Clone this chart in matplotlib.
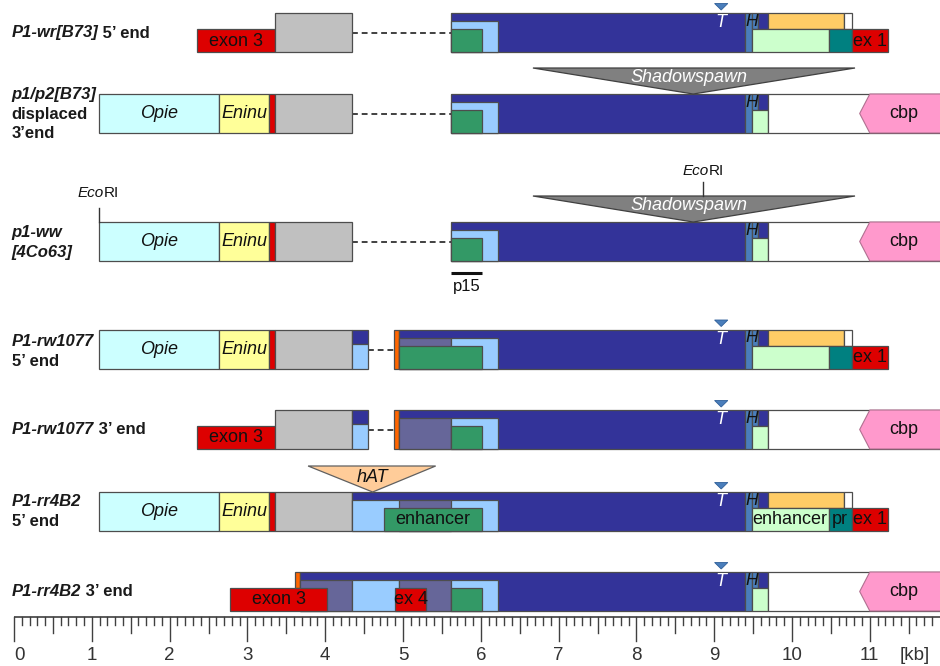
import matplotlib
matplotlib.use('Agg')
import matplotlib.pyplot as plt
from matplotlib.patches import Rectangle, Polygon

plt.rcParams['font.family'] = ['Liberation Sans', 'DejaVu Sans']

# ---------------- data (positions in kb) ----------------
colors = {
    'opie': '#CCFFFF', 'eninu': '#FFFF99', 'red': '#DD0000', 'grey': '#C0C0C0',
    'navy': '#333399', 'lblue': '#99CCFF', 'green': '#339966', 'slate': '#666699',
    'steel': '#4A7EBB', 'lgreen': '#CCFFCC', 'gold': '#FFCC66', 'white': '#FFFFFF',
    'teal': '#008080', 'orange': '#FF6600',
}

left_te = [('opie', 1.09, 2.64, 'full', 'Opie'), ('eninu', 2.64, 3.28, 'full', 'Eninu'),
           ('red', 3.28, 3.35, 'full', ''), ('grey', 3.35, 4.35, 'full', '')]
end_ex1 = [('steel', 9.40, 9.48, 'full', ''), ('steel', 9.48, 9.56, 'high', ''),
           ('navy', 9.56, 9.69, 'high', ''), ('gold', 9.69, 10.67, 'high', ''),
           ('white', 10.67, 10.77, 'high', ''), ('lgreen', 9.48, 10.47, 'low', ''),
           ('teal', 10.47, 10.77, 'low', ''), ('red', 10.77, 11.23, 'low', 'ex 1')]
end_cbp = [('steel', 9.40, 9.48, 'full', ''), ('steel', 9.48, 9.56, 'high', ''),
           ('navy', 9.56, 9.69, 'high', ''), ('lgreen', 9.48, 9.69, 'low', ''),
           ('white', 9.69, 11.95, 'full', '')]
p_core = [('navy', 5.62, 9.40, 'full', ''), ('lblue', 5.62, 6.22, 'mid', ''),
          ('green', 5.62, 6.02, 'low', '')]

row1 = [('red', 2.35, 3.35, 'low', 'exon 3'), ('grey', 3.35, 4.35, 'full', '')] + p_core + end_ex1
row2 = left_te + p_core + end_cbp
row3 = left_te + p_core + end_cbp
row4 = left_te + [('navy', 4.35, 4.55, 'cap', ''), ('lblue', 4.35, 4.55, 'base', ''),
                  ('orange', 4.89, 4.95, 'full', ''), ('navy', 4.95, 9.40, 'full', ''),
                  ('slate', 4.95, 5.62, 'mid', ''), ('lblue', 5.62, 6.22, 'mid', ''),
                  ('green', 4.95, 6.02, 'low', '')] + end_ex1
row5 = [('red', 2.35, 3.35, 'low', 'exon 3'), ('grey', 3.35, 4.35, 'full', ''),
        ('navy', 4.35, 4.55, 'cap', ''), ('lblue', 4.35, 4.55, 'base', ''),
        ('orange', 4.89, 4.95, 'full', ''), ('navy', 4.95, 9.40, 'full', ''),
        ('slate', 4.95, 5.62, 'mid', ''), ('lblue', 5.62, 6.22, 'mid', ''),
        ('green', 5.62, 6.02, 'low', '')] + end_cbp
row6 = left_te + [('navy', 4.35, 9.40, 'full', ''), ('lblue', 4.35, 6.22, 'mid', ''),
                  ('slate', 4.95, 5.62, 'mid', ''), ('green', 4.75, 6.02, 'low', 'enhancer')] + \
       [('steel', 9.40, 9.48, 'full', ''), ('steel', 9.48, 9.56, 'high', ''),
        ('navy', 9.56, 9.69, 'high', ''), ('gold', 9.69, 10.67, 'high', ''),
        ('white', 10.67, 10.77, 'high', ''), ('lgreen', 9.48, 10.47, 'low', 'enhancer'),
        ('teal', 10.47, 10.77, 'low', 'pr'), ('red', 10.77, 11.23, 'low', 'ex 1')]
row7 = [('orange', 3.61, 3.68, 'high', ''), ('navy', 3.68, 9.40, 'full', ''),
        ('slate', 3.68, 4.35, 'mid', ''), ('lblue', 4.35, 4.95, 'mid', ''),
        ('slate', 4.95, 5.62, 'mid', ''), ('lblue', 5.62, 6.22, 'mid', ''),
        ('green', 5.62, 6.02, 'low', ''), ('red', 2.78, 4.02, 'low', 'exon 3'),
        ('red', 4.90, 5.30, 'low', 'ex 4')] + end_cbp
rows = [row1, row2, row3, row4, row5, row6, row7]

dashes = {0: (4.35, 5.62), 1: (4.35, 5.62), 2: (4.35, 5.62), 3: (4.55, 4.89), 4: (4.55, 4.89)}
cbp_rows = [1, 2, 4, 6]
cbp_tip, cbp_shoulder = 10.87, 11.00
t_rows = [0, 3, 4, 5, 6]
t_pos = 9.09
h_pos = 9.48
shadowspawn = {1: (6.67, 10.81, 8.73), 2: (6.67, 10.81, 8.73)}
hat = (3.78, 5.42, 4.61)
ecori_sites = [(2, 8.86), (2, 1.09)]
p15 = (5.62, 6.02)

row_labels = [
    [("P1-wr[B73]", " 5’ end")],
    [("p1/p2[B73]", ""), ("", "displaced"), ("", "3’end")],
    [("p1-ww", ""), ("[4Co63]", "")],
    [("P1-rw1077", ""), ("", "5’ end")],
    [("P1-rw1077", " 3’ end")],
    [("P1-rr4B2", ""), ("", "5’ end")],
    [("P1-rr4B2", " 3’ end")],
]
kb_ticks = list(range(0, 12))

# ---------------- layout (pixels) ----------------
W, Hpx = 940, 666
x0px, pxkb = 14.0, 77.8
row_tops = [13, 94, 222, 329.5, 410, 492, 572]
label_ys = [[33], [94, 114, 134], [232, 252], [341, 361], [430], [502, 521], [592]]
RH = 39
parts = {'full': (0, RH), 'high': (0, 16), 'low': (16, RH), 'mid': (8, RH),
         'cap': (0, 14), 'base': (14, RH)}
edge = '#4d4d4d'

fig = plt.figure(figsize=(W / 100, Hpx / 100), dpi=100)
ax = fig.add_axes([0, 0, 1, 1])
ax.set_xlim(-x0px / pxkb, (W - x0px) / pxkb)
ax.set_ylim(Hpx, 0)
ax.axis('off')


def bold_label(x, y, a, b):
    if a:
        t = ax.text(x, y, a, fontsize=12, fontweight='bold', fontstyle='italic',
                    ha='left', va='center', color='#1a1a1a')
        if b:
            ax.annotate(b, xy=(1, 0), xycoords=t, fontsize=12, fontweight='bold',
                        ha='left', va='bottom', color='#1a1a1a')
    else:
        ax.text(x, y, b, fontsize=12, fontweight='bold', ha='left', va='center',
                color='#1a1a1a')


for i, feats in enumerate(rows):
    top = row_tops[i]
    if i in dashes:
        d0, d1 = dashes[i]
        ax.plot([d0, d1], [top + 20, top + 20], color='#404040', lw=1.4,
                ls=(0, (3, 2)), zorder=1)
    for kind, s, e, part, lab in feats:
        y0, y1 = parts[part]
        ax.add_patch(Rectangle((s, top + y0), e - s, y1 - y0, facecolor=colors[kind],
                               edgecolor=edge, lw=0.9, zorder=2))
        if lab:
            st = 'italic' if lab in ('Opie', 'Eninu') else 'normal'
            ax.text((s + e) / 2, top + (y0 + y1) / 2 + 0.5, lab, fontsize=13,
                    fontstyle=st, ha='center', va='center', color='#111111', zorder=5)
    # H element
    ax.text(h_pos, top + 8.5, 'H', fontsize=12.5, fontstyle='italic', ha='center',
            va='center', color='#111111', zorder=5)
    if i in cbp_rows:
        ax.add_patch(Polygon([(cbp_tip, top + RH / 2), (cbp_shoulder, top),
                              (12.2, top), (12.2, top + RH), (cbp_shoulder, top + RH)],
                             closed=True, facecolor='#FF99CC', edgecolor='#b07090',
                             lw=0.8, zorder=3))
        ax.text(11.43, top + RH / 2 + 0.5, 'cbp', fontsize=13, ha='center',
                va='center', color='#111111', zorder=5)
    if i in t_rows:
        ax.add_patch(Polygon([(t_pos - 0.085, top - 9.5), (t_pos + 0.085, top - 9.5),
                              (t_pos, top - 3)], closed=True, facecolor='#4A7EBB',
                             edgecolor='#2f5f99', lw=0.6, zorder=4))
        ax.text(t_pos, top + 9.5, 'T', fontsize=13, fontstyle='italic', ha='center',
                va='center', color='white', zorder=5)
    for (a, b), yy in zip(row_labels[i], label_ys[i]):
        bold_label(-0.03, yy, a, b)

# Shadowspawn insertions
for i, (s, e, tip) in shadowspawn.items():
    top = row_tops[i]
    ax.add_patch(Polygon([(s, top - 26), (e, top - 26), (tip, top)], closed=True,
                         facecolor='#808080', edgecolor='#404040', lw=0.9, zorder=6))
    ax.text((s + e) / 2 - 0.06, top - 17, 'Shadowspawn', fontsize=13, fontstyle='italic',
            ha='center', va='center', color='white', zorder=7)

# hAT insertion
top = row_tops[5]
ax.add_patch(Polygon([(hat[0], top - 26), (hat[1], top - 26), (hat[2], top)], closed=True,
                     facecolor='#FFCC99', edgecolor='#606060', lw=0.9, zorder=6))
ax.text(hat[2], top - 14, 'hAT', fontsize=13, fontstyle='italic', ha='center',
        va='center', color='#111111', zorder=7)

# EcoRI sites
for i, xk in ecori_sites:
    top = row_tops[i]
    if xk > 5:
        y_line0, y_text = top - 40, top - 51
        y_line1 = top - 26
    else:
        y_line0, y_text = top - 14, top - 29
        y_line1 = top
    ax.plot([xk, xk], [y_line0, y_line1], color='#333333', lw=1.0, zorder=8)
    t = ax.text(xk + 0.07, y_text, 'Eco', fontsize=11, fontstyle='italic',
                ha='right', va='center', color='#111111')
    ax.annotate('RI', xy=(1, 0), xycoords=t, fontsize=11, ha='left', va='bottom',
                color='#111111')

# p15 probe
ax.plot([p15[0], p15[1]], [273, 273], color='#111111', lw=2.2, solid_capstyle='butt')
ax.text((p15[0] + p15[1]) / 2, 286, 'p15', fontsize=12, ha='center', va='center',
        color='#111111')

# kb ruler
ruler_y = 617
ax.plot([0, (W - x0px) / pxkb], [ruler_y, ruler_y], color='#404040', lw=1.2,
        solid_capstyle='butt')
for k in range(0, 119):
    xk = k / 10
    if k % 10 == 0:
        L = 24
    elif k % 5 == 0:
        L = 16
    else:
        L = 8
    ax.plot([xk, xk], [ruler_y, ruler_y + L], color='#404040', lw=1.0)
for k in kb_ticks:
    if k == 0:
        ax.text(0.0, 656, str(k), fontsize=13.5, ha='left', va='center', color='#333333')
    else:
        ax.text(k, 656, str(k), fontsize=13.5, ha='center', va='center', color='#333333')
ax.text(11.58, 656, '[kb]', fontsize=13.5, ha='center', va='center', color='#333333')

fig.savefig('out.png', dpi=100)
